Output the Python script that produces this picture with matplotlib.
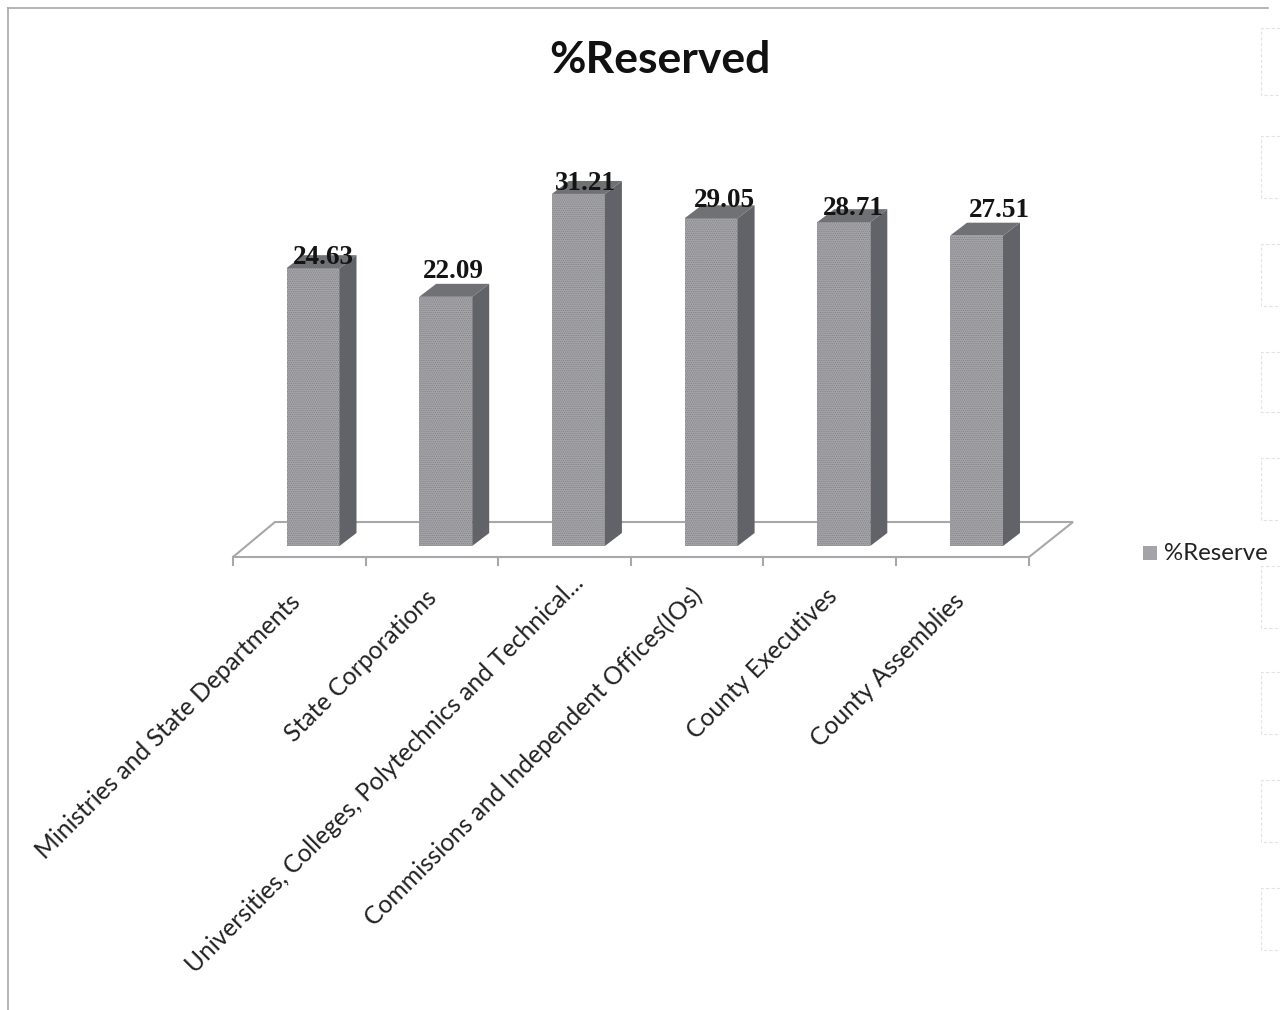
import matplotlib
matplotlib.use("Agg")
import matplotlib.pyplot as plt
from matplotlib.patches import Polygon

categories = ["Ministries and State Departments", "State Corporations",
              "Universities, Colleges, Polytechnics and Technical...",
              "Commissions and Independent Offices(IOs)",
              "County Executives", "County Assemblies"]
reserved = [24.63, 22.09, 31.21, 29.05, 28.71, 27.51]
value_labels = ["24.63", "22.09", "31.21", "29.05", "28.71", "27.51"]
floor_ticks = [233, 365.5, 498, 631, 763, 896, 1029]

# label placement, in pixels (the labels were hand placed in the original)
label_anchor_x = [288, 425, 572, 690, 825, 952]
label_anchor_y = [590, 586, 571, 584, 584, 589]
value_dx = [10.5, 7.8, 7, 13, 9.5, 23]
value_dy = [4, 19, 4.4, 11.6, 7, 19]

W, H = 1280, 1010
FRONT, SIDE, TOP = "#a3a3a8", "#616368", "#6f7175"
DOTS = "#7f8085"
LINE = "#a8a8aa"

plt.rcParams["hatch.linewidth"] = 0.5
fig = plt.figure(figsize=(W / 100, H / 100), dpi=100)

# overlay in pixels for page border, floor, and text
pg = fig.add_axes([0, 0, 1, 1])
pg.set_xlim(0, W)
pg.set_ylim(H, 0)
pg.axis("off")

pg.plot([8, 8], [8, H], color="#a8a8a8", lw=1.2)
pg.plot([8, 1268], [8, 8], color="#a8a8a8", lw=1.2)

# faint scan marks down the right side of the page
for y0, y1 in [(28, 95), (136, 198), (244, 306), (352, 412), (458, 520),
               (566, 628), (672, 734), (780, 842), (888, 950)]:
    pg.plot([1280, 1261, 1261, 1280], [y0, y0, y1, y1], color="#e2e2e8",
            lw=0.8, ls=(0, (3, 2)))

# floor
pg.add_patch(Polygon([(233, 557), (275, 522), (1073, 522), (1029, 557)],
                     closed=True, fc="white", ec=LINE, lw=1.5))
for t in floor_ticks:
    pg.plot([t, t], [557, 565], color=LINE, lw=1.5)

# bars in data units
ax = fig.add_axes([0, 0, 1, 1])
ax.patch.set_alpha(0)
slot = 132.7
unit = 11.28
ax.set_xlim(-313 / slot, (W - 313) / slot)
ax.set_ylim(-(H - 546) / unit, 546 / unit)
ax.axis("off")

xpos = list(range(len(categories)))
bar_w = 53 / slot
dx = 17 / slot
dy = 13 / unit

ax.bar(xpos, reserved, width=bar_w, facecolor=FRONT, edgecolor=DOTS,
       hatch="........", linewidth=0, zorder=3)
for x, v in zip(xpos, reserved):
    l, r = x - bar_w / 2, x + bar_w / 2
    ax.add_patch(Polygon([(r, 0), (r + dx, dy), (r + dx, v + dy), (r, v)],
                         closed=True, fc=SIDE, ec="none", zorder=3))
    ax.add_patch(Polygon([(l, v), (l + dx, v + dy), (r + dx, v + dy), (r, v)],
                         closed=True, fc=TOP, ec="none", zorder=3))

label_font = dict(family="Liberation Serif", weight="bold", fontsize=19.5,
                  color="#141414", ha="center", va="baseline", zorder=5)
for x, v, s, ox, oy in zip(xpos, reserved, value_labels, value_dx, value_dy):
    ax.annotate(s, (x, v), xytext=(ox * 0.72, oy * 0.72),
                textcoords="offset points", **label_font)

# text
pg.text(660, 73, "%Reserved", family="Lato", weight="bold", fontsize=32,
        ha="center", va="baseline", color="#111111")
for px, py, name in zip(label_anchor_x, label_anchor_y, categories):
    pg.text(px, py, name, family="Lato", fontsize=17.7, rotation=45,
            rotation_mode="anchor", ha="right", va="top", color="#222222")

pg.scatter([1150], [553], marker="s", s=95, color=FRONT, linewidths=0)
pg.text(1164, 560, "%Reserve", family="Lato", fontsize=17.3, color="#222222",
        ha="left", va="baseline")

fig.savefig("out.png", dpi=100)
